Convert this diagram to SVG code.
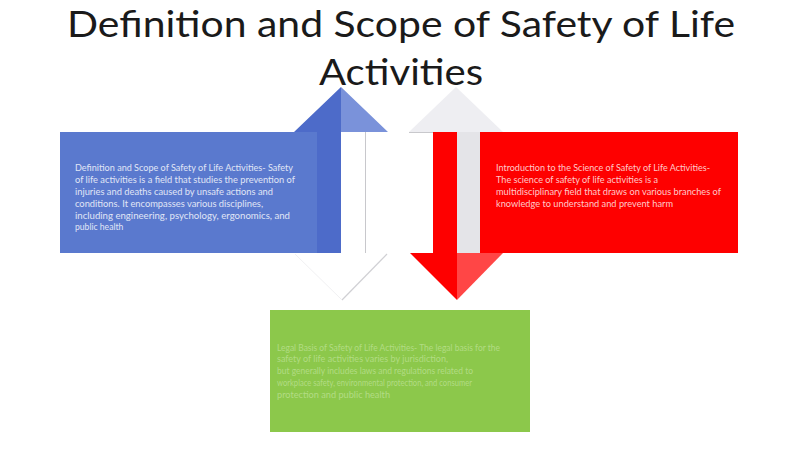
<svg xmlns="http://www.w3.org/2000/svg" width="800" height="449" viewBox="0 0 800 449">
<style>
.title{font-family:Lato,"Open Sans","Liberation Sans",sans-serif;font-size:37px;fill:#1a1a1a;text-anchor:middle}
.t{font-family:Lato,"Open Sans","Liberation Sans",sans-serif;font-size:8.6px}
.tb{fill:#e0e6f6}
.tr{fill:#ffcaca}
.tg{fill:#b2dc84}
</style>
<rect width="800" height="449" fill="#ffffff"/>
<g id="title">
<text class="title" x="401" y="37" textLength="668" lengthAdjust="spacingAndGlyphs">Definition and Scope of Safety of Life</text>
<text class="title" x="401" y="85" textLength="164" lengthAdjust="spacingAndGlyphs">Activities</text>
</g>
<g id="connectors">
<polygon points="341,87 294,132 317,132 317,253 341,253" fill="#4d6bc9"/>
<polygon points="341,87 388,132 365,132 365,253 341,253" fill="#7a92da"/>
<rect x="341" y="132" width="24" height="121" fill="#ffffff"/>
<line x1="365.5" y1="132" x2="365.5" y2="253" stroke="#c8c8cc" stroke-width="1"/>
<polygon points="295,254 342,300 387,254" fill="#ffffff"/>
<line x1="387" y1="254" x2="342" y2="300" stroke="#d0d0d4" stroke-width="1.2"/>
<line x1="295" y1="254" x2="342" y2="300" stroke="#f0f0f2" stroke-width="1"/>
<polygon points="409,132 456,87 503,132" fill="#eeeef2"/>
<line x1="409" y1="132.5" x2="433" y2="132.5" stroke="#c8c8cc" stroke-width="1"/>
<rect x="433" y="132" width="24" height="121" fill="#fe0000"/>
<rect x="457" y="132" width="23" height="121" fill="#e4e4e8"/>
<polygon points="410,253 457,300 457,253" fill="#fe0000"/>
<polygon points="457,253 457,300 503,253" fill="#ff4646"/>
</g>
<g id="node-blue">
<rect x="60" y="132" width="257" height="121" fill="#5a79ce"/>
<text class="t tb" x="75" y="171" textLength="218" lengthAdjust="spacingAndGlyphs">Definition and Scope of Safety of Life Activities- Safety</text>
<text class="t tb" x="75" y="183" textLength="220" lengthAdjust="spacingAndGlyphs">of life activities is a field that studies the prevention of</text>
<text class="t tb" x="75" y="195" textLength="198" lengthAdjust="spacingAndGlyphs">injuries and deaths caused by unsafe actions and</text>
<text class="t tb" x="75" y="206.5" textLength="188" lengthAdjust="spacingAndGlyphs">conditions. It encompasses various disciplines,</text>
<text class="t tb" x="75" y="218.5" textLength="215" lengthAdjust="spacingAndGlyphs">including engineering, psychology, ergonomics, and</text>
<text class="t tb" x="75" y="230">public health</text>
</g>
<g id="node-red">
<rect x="480" y="132" width="258" height="121" fill="#fe0000"/>
<text class="t tr" x="496" y="171" textLength="214" lengthAdjust="spacingAndGlyphs">Introduction to the Science of Safety of Life Activities-</text>
<text class="t tr" x="496" y="183" textLength="162" lengthAdjust="spacingAndGlyphs">The science of safety of life activities is a</text>
<text class="t tr" x="496" y="195" textLength="225" lengthAdjust="spacingAndGlyphs">multidisciplinary field that draws on various branches of</text>
<text class="t tr" x="496" y="207" textLength="177" lengthAdjust="spacingAndGlyphs">knowledge to understand and prevent harm</text>
</g>
<g id="node-green">
<rect x="270" y="310" width="260" height="122" fill="#8cc84b"/>
<text class="t tg" x="277" y="351" textLength="223" lengthAdjust="spacingAndGlyphs">Legal Basis of Safety of Life Activities- The legal basis for the</text>
<text class="t tg" x="277" y="362" textLength="171" lengthAdjust="spacingAndGlyphs">safety of life activities varies by jurisdiction,</text>
<text class="t tg" x="277" y="374" textLength="196" lengthAdjust="spacingAndGlyphs">but generally includes laws and regulations related to</text>
<text class="t tg" x="277" y="386" textLength="195" lengthAdjust="spacingAndGlyphs">workplace safety, environmental protection, and consumer</text>
<text class="t tg" x="277" y="398" textLength="113" lengthAdjust="spacingAndGlyphs">protection and public health</text>
</g>
</svg>
